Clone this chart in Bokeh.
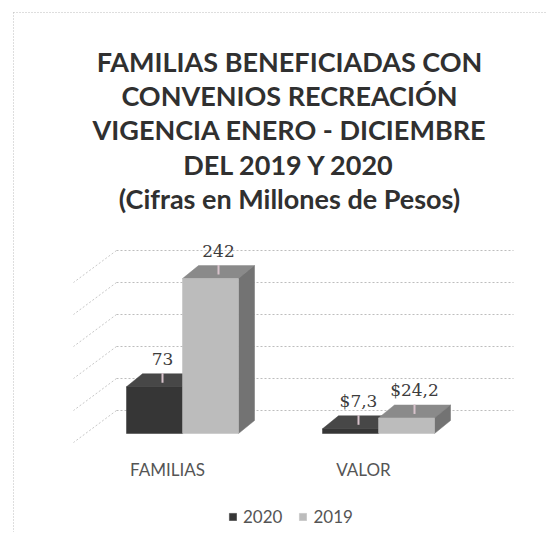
from bokeh.plotting import figure
from bokeh.models import Range1d, Label, ColumnDataSource, Legend, LegendItem
from bokeh.embed import file_html
from bokeh.resources import INLINE
from bokeh.core.properties import value

# ---------------- data ----------------
categories = ["FAMILIAS", "VALOR"]
series_names = ["2020", "2019"]
values_2020 = [73, 7.3]
values_2019 = [242, 24.2]
labels_2020 = ["73", "$7,3"]
labels_2019 = ["242", "$24,2"]
grid_values = [0, 50, 100, 150, 200, 250]
title_lines = [
    "FAMILIAS BENEFICIADAS CON",
    "CONVENIOS RECREACIÓN",
    "VIGENCIA ENERO - DICIEMBRE",
    "DEL 2019 Y 2020",
    "(Cifras en Millones de Pesos)",
]

# ---------------- geometry / style ----------------
W, H = 546, 532
PX_X = 196.0          # pixels per category unit
PX_Y = 0.64           # pixels per value unit
x0 = 1 - 182 / PX_X
y_top = 433 / PX_Y
y0 = y_top - H / PX_Y
BAR_W = 56 / PX_X
DX = 16 / PX_X        # 3D depth offset (x)
DY = 13 / PX_Y        # 3D depth offset (y)
WALL_DY = 23 / PX_Y
WALL_BACK_X = x0 + 116 / PX_X
WALL_FRONT_X = x0 + 73 / PX_X
WALL_RIGHT_X = x0 + 513 / PX_X
WALL_DIAG = 50

def px_x(px):
    return x0 + px / PX_X

def px_y(py):
    return y_top - py / PX_Y

p = figure(width=W, height=H, output_backend="svg", toolbar_location=None,
           x_range=Range1d(x0, x0 + W / PX_X), y_range=Range1d(y0, y_top),
           min_border=0, min_border_left=0, min_border_right=0,
           min_border_top=0, min_border_bottom=0)
p.axis.visible = False
p.grid.visible = False
p.background_fill_color = "white"
p.border_fill_color = "white"
p.outline_line_color = None

# chart-area frame (dotted, left and top edges)
p.segment(x0=[px_x(13), px_x(13)], y0=[px_y(12), px_y(12)],
          x1=[px_x(13), px_x(560)], y1=[px_y(560), px_y(12)],
          line_color="#bdbdbd", line_dash="1 2", line_width=1)

# back wall grid lines
gy = [g + WALL_DY for g in grid_values]
p.segment(x0=[WALL_BACK_X] * len(gy), y0=gy, x1=[WALL_RIGHT_X] * len(gy), y1=gy,
          line_color="#bdbdbd", line_dash="2 2", line_width=1)
p.segment(x0=[WALL_BACK_X] * len(gy), y0=gy, x1=[WALL_FRONT_X] * len(gy),
          y1=[v - WALL_DIAG for v in gy],
          line_color="#c8c8c8", line_dash="2 2", line_width=1)

centers = [1 + i for i in range(len(categories))]

def faces(xc, vals):
    top_x, top_y, side_x, side_y = [], [], [], []
    for x, v in zip(xc, vals):
        l, r = x - BAR_W / 2, x + BAR_W / 2
        top_x.append([l, r, r + DX, l + DX])
        top_y.append([v, v, v + DY, v + DY])
        side_x.append([r, r + DX, r + DX, r])
        side_y.append([0, DY, v + DY, v])
    return top_x, top_y, side_x, side_y

series = [
    (values_2020, labels_2020, -BAR_W / 2, "#363636", "#474747", "#262626"),
    (values_2019, labels_2019, BAR_W / 2, "#bcbcbc", "#8a8a8a", "#737373"),
]
front_renderers = []
for vals, labs, off, c_front, c_top, c_side in series:
    xc = [c + off for c in centers]
    tx, ty, sx, sy = faces(xc, vals)
    p.patches(tx, ty, fill_color=c_top, line_color=c_top, line_width=0.5)
    p.patches(sx, sy, fill_color=c_side, line_color=c_side, line_width=0.5)
    r = p.vbar(x=xc, top=vals, bottom=0, width=BAR_W, fill_color=c_front,
               line_color=c_front, line_width=0.5)
    front_renderers.append(r)

# leader lines + data labels
for vals, labs, off, *_ in series:
    xc = [c + off + DX / 2 for c in centers]
    ytop = [v + DY for v in vals]
    p.segment(x0=xc, y0=[v + 1 for v in ytop], x1=xc, y1=[v - 14 for v in ytop],
              line_color="#d8c3cc", line_width=2)
    src = ColumnDataSource(dict(x=xc, y=ytop, t=labs))
    p.text(x="x", y="y", text="t", source=src, text_font=value("DejaVu Serif"),
           text_font_size="17px", text_color="#3c3c3c", text_align="center",
           text_baseline="middle", y_offset=-15)

# category labels
p.text(x=centers, y=[0] * len(centers), text=categories, text_font=value("Lato"),
       text_font_size="17px", text_color="#555555", text_align="center",
       text_baseline="middle", x_offset=-15, y_offset=36)

# title
for i, line in enumerate(title_lines):
    p.add_layout(Label(x=289, y=H - 61 - 34.2 * i, x_units="screen", y_units="screen",
                       text=line, text_font="Lato", text_font_style="bold",
                       text_font_size="27px", text_color="#303030",
                       text_align="center", text_baseline="middle"))

legend = Legend(items=[LegendItem(label=n, renderers=[r])
                       for n, r in zip(series_names, front_renderers)],
                orientation="horizontal", location=(228, 5),
                glyph_width=9, glyph_height=9, label_standoff=6, spacing=16,
                padding=0, margin=0, border_line_color=None,
                background_fill_alpha=0, label_text_font="Lato",
                label_text_font_size="17px", label_text_color="#555555")
p.add_layout(legend)

open("out.html", "w").write(file_html(p, INLINE))
